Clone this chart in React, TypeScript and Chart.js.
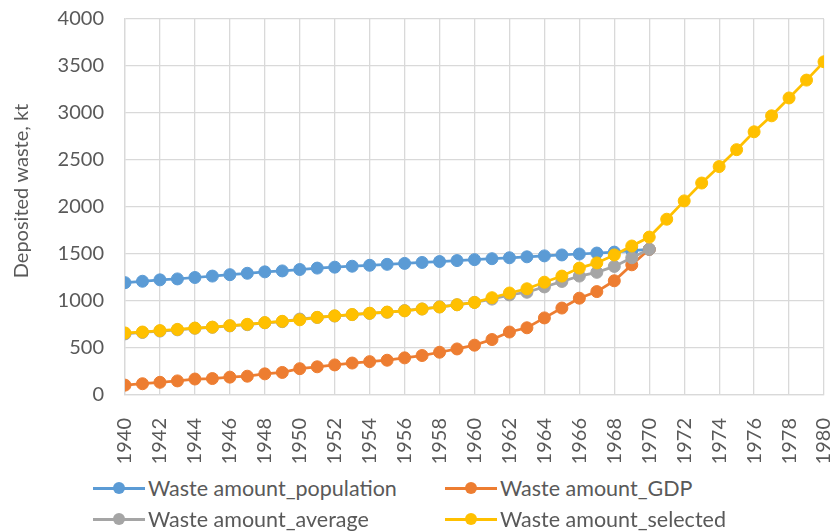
import React, { useEffect, useRef } from "react";
import { Chart, registerables } from "chart.js";
Chart.register(...registerables);

const years = [
  1940, 1941, 1942, 1943, 1944, 1945, 1946, 1947, 1948, 1949,
  1950, 1951, 1952, 1953, 1954, 1955, 1956, 1957, 1958, 1959,
  1960, 1961, 1962, 1963, 1964, 1965, 1966, 1967, 1968, 1969,
  1970, 1971, 1972, 1973, 1974, 1975, 1976, 1977, 1978, 1979, 1980,
];

const population = [
  1195, 1210, 1225, 1235, 1250, 1265, 1280, 1295, 1310, 1320,
  1335, 1350, 1360, 1370, 1380, 1390, 1400, 1410, 1420, 1430,
  1440, 1450, 1460, 1470, 1480, 1490, 1500, 1510, 1520, 1535, 1550,
];

const gdp = [
  105, 120, 135, 150, 170, 175, 190, 200, 225, 240,
  280, 300, 320, 340, 355, 370, 395, 420, 455, 490,
  530, 590, 670, 715, 820, 925, 1030, 1100, 1215, 1385, 1550,
];

const average = [
  650, 665, 680, 693, 710, 720, 735, 748, 768, 780,
  808, 825, 840, 855, 868, 880, 898, 915, 938, 960,
  985, 1020, 1065, 1093, 1150, 1208, 1265, 1305, 1368, 1460, 1550,
];

const selected = [
  660, 670, 685, 698, 712, 722, 738, 752, 770, 784,
  800, 826, 842, 856, 870, 882, 895, 915, 936, 960,
  985, 1035, 1085, 1130, 1200, 1265, 1350, 1405, 1490, 1585,
  1680, 1870, 2065, 2255, 2430, 2610, 2800, 2970, 3160, 3350, 3545,
];

const seriesNames = [
  "Waste amount_population",
  "Waste amount_GDP",
  "Waste amount_average",
  "Waste amount_selected",
];
const seriesColors = ["#5B9BD5", "#ED7D31", "#A5A5A5", "#FFC000"];
const yTitle = "Deposited waste, kt";

const FONT = "Lato, 'Open Sans', sans-serif";
const TEXT = "#595959";

function toPoints(vals: number[]) {
  return vals.map((v, i) => ({ x: years[i], y: v }));
}

const yTitlePlugin = {
  id: "yTitlePlugin",
  afterDraw(chart: any) {
    const ctx = chart.ctx;
    ctx.save();
    ctx.translate(22, 191);
    ctx.rotate(-Math.PI / 2);
    ctx.font = `20px ${FONT}`;
    ctx.fillStyle = TEXT;
    ctx.textAlign = "center";
    ctx.textBaseline = "middle";
    ctx.fillText(yTitle, 0, 0);
    ctx.restore();
  },
};

export default function App() {
  const ref = useRef<HTMLCanvasElement | null>(null);
  useEffect(() => {
    if (!ref.current) return;
    const all = [population, gdp, average, selected];
    const chart = new Chart(ref.current, {
      type: "line",
      data: {
        datasets: all.map((vals, i) => ({
          label: seriesNames[i],
          data: toPoints(vals),
          borderColor: seriesColors[i],
          backgroundColor: seriesColors[i],
          pointBackgroundColor: seriesColors[i],
          pointBorderColor: seriesColors[i],
          pointBorderWidth: 1,
          pointRadius: 6,
          borderWidth: 2.75,
          tension: 0,
          order: 4 - i,
        })),
      },
      plugins: [yTitlePlugin],
      options: {
        animation: false,
        responsive: true,
        maintainAspectRatio: false,
        layout: { padding: { top: 19, right: 12, left: 0, bottom: 0 } },
        plugins: { legend: { display: false }, tooltip: { enabled: false } },
        scales: {
          x: {
            type: "linear",
            min: 1940,
            max: 1980,
            afterFit: (s: any) => {
              s.height = 75;
              s.paddingLeft = 0;
              s.paddingRight = 0;
            },
            ticks: {
              stepSize: 2,
              autoSkip: false,
              maxRotation: 90,
              minRotation: 90,
              padding: 23,
              color: TEXT,
              font: { family: FONT, size: 20 },
              callback: (v: any) => String(v),
            },
            grid: { color: "#D9D9D9", lineWidth: 1.3, drawTicks: false },
            border: { color: "#D9D9D9", width: 1.3 },
          },
          y: {
            min: 0,
            max: 4000,
            afterFit: (s: any) => {
              s.width = 125;
              s.paddingTop = 0;
              s.paddingBottom = 0;
            },
            ticks: {
              stepSize: 500,
              padding: 21,
              color: TEXT,
              font: { family: FONT, size: 20 },
              callback: (v: any) => String(v),
            },
            grid: { color: "#D9D9D9", lineWidth: 1.3, drawTicks: false },
            border: { color: "#D9D9D9", width: 1.3 },
          },
        },
      },
    });
    return () => chart.destroy();
  }, []);

  const legendPos = [
    { left: 93, top: 474 },
    { left: 445, top: 474 },
    { left: 93, top: 505 },
    { left: 445, top: 505 },
  ];

  return (
    <div style={{ position: "fixed", left: 0, top: 0, width: 836, height: 531, background: "#fff" }}>
      <div style={{ position: "absolute", left: 0, top: 0, width: 836, height: 470 }}>
        <canvas ref={ref} />
      </div>
      {seriesNames.map((name, i) => (
        <div
          key={name}
          style={{
            position: "absolute",
            left: legendPos[i].left,
            top: legendPos[i].top,
            height: 28,
            display: "flex",
            alignItems: "center",
            fontFamily: FONT,
            fontSize: 21.5,
            color: TEXT,
            whiteSpace: "nowrap",
          }}
        >
          <span style={{ position: "relative", width: 52, height: 28, marginRight: 3, display: "inline-block" }}>
            <span style={{ position: "absolute", left: 0, top: 12.5, width: 52, height: 3, background: seriesColors[i] }} />
            <span
              style={{
                position: "absolute",
                left: 20,
                top: 8,
                width: 12,
                height: 12,
                borderRadius: "50%",
                background: seriesColors[i],
              }}
            />
          </span>
          <span>{name}</span>
        </div>
      ))}
    </div>
  );
}
